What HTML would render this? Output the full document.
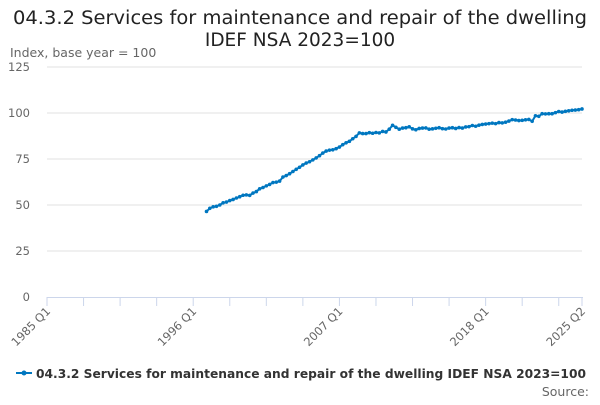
<!DOCTYPE html>
<html><head><meta charset="utf-8"><style>
body{margin:0;background:#fff;font-family:"Liberation Sans","DejaVu Sans",sans-serif}
svg text{font-family:"DejaVu Sans","Liberation Sans",sans-serif}
</style></head><body>
<svg id="c" width="600" height="400" viewBox="0 0 600 400">
<text x="300" y="24" text-anchor="middle" font-size="18.5" fill="#222" textLength="574" lengthAdjust="spacingAndGlyphs">04.3.2 Services for maintenance and repair of the dwelling</text>
<text x="300" y="46" text-anchor="middle" font-size="18.5" fill="#222">IDEF NSA 2023=100</text>
<text x="10" y="57" font-size="12.5" fill="#666">Index, base year = 100</text>
<g id="grid"></g><g id="xax"></g><g id="series"></g>
<g>
<line x1="16" y1="373" x2="32" y2="373" stroke="#0077c0" stroke-width="2"/>
<circle cx="24" cy="373" r="2.5" fill="#0077c0"/>
<text x="36" y="378" font-size="12.5" font-weight="bold" fill="#333" textLength="550" lengthAdjust="spacingAndGlyphs">04.3.2 Services for maintenance and repair of the dwelling IDEF NSA 2023=100</text>
</g>
<text x="589" y="396" text-anchor="end" font-size="12.5" fill="#666">Source:</text>
</svg>
<script>
const yTicks=[0,25,50,75,100,125];
const xLabels=["1985 Q1","1996 Q1","2007 Q1","2018 Q1","2025 Q2"];
const xLabelIdx=[0,44,88,132,161];
const startIdx=48;
const values=[46.5,48.2,49,49.3,50,51.2,51.6,52.4,53,53.8,54.5,55.3,55.5,55.2,56.5,57.3,58.8,59.5,60.4,61.2,62.2,62.4,63,65.2,66,67,68.2,69.4,70.5,71.8,72.8,73.5,74.5,75.6,76.8,78.2,79.3,79.8,80,80.6,81.5,82.8,83.8,84.6,86,87.3,89.2,88.8,88.8,89.3,89,89.4,89.2,90,89.7,91.2,93.3,92.2,91.2,91.8,92,92.5,91.4,90.9,91.6,91.8,91.9,91.2,91.4,91.7,92,91.5,91.3,91.8,92,91.6,92.1,91.8,92.4,92.6,93.2,92.8,93.4,93.8,94,94.2,94.5,94.2,94.8,94.6,95,95.6,96.4,96.2,95.9,96,96.3,96.5,95.5,98.5,98.2,99.6,99.5,99.6,99.6,100.2,100.8,100.5,100.9,101.2,101.5,101.6,101.8,102.2];
const NS="http://www.w3.org/2000/svg";
const X0=47,X1=582,NQ=161,Y0=297,Y1=67;
const xs=i=>X0+(X1-X0)*i/NQ;
const ys=v=>Y0-(Y0-Y1)*v/125;
function mk(t,a,p){const e=document.createElementNS(NS,t);for(const k in a)e.setAttribute(k,a[k]);p.appendChild(e);return e;}
const grid=document.getElementById('grid');
yTicks.forEach(v=>{
  if(v>0){const l=mk('line',{x1:X0,x2:X1,y1:ys(v),y2:ys(v),stroke:'#e0e0e0'},grid);
  
  }
  const t=mk('text',{x:30,y:ys(v)+4,'text-anchor':'end','font-size':11.5,fill:'#666'},grid);t.textContent=v;
  
  
});
const xax=document.getElementById('xax');
const ax=mk('line',{x1:X0,x2:X1+1,y1:Y0+0.5,y2:Y0+0.5,stroke:'#ccd6eb'},xax);


for(let i=0;i<=NQ;i+=11){mk('line',{x1:xs(i),x2:xs(i),y1:Y0,y2:Y0+9,stroke:'#ccd6eb'},xax);}
mk('line',{x1:xs(NQ),x2:xs(NQ),y1:Y0,y2:Y0+9,stroke:'#ccd6eb'},xax);
xLabels.forEach((s,k)=>{const x=xs(xLabelIdx[k])+4,y=Y0+15;
  const t=mk('text',{x:x,y:y,'text-anchor':'end','font-size':11.5,fill:'#666',transform:`rotate(-45 ${x} ${y})`},xax);t.textContent=s;
  
  
});
const g=document.getElementById('series');
const pts=values.map((v,i)=>[xs(startIdx+i),ys(v)]);
const pl=mk('polyline',{points:pts.map(p=>p.join(',')).join(' '),fill:'none',stroke:'#0077c0','stroke-width':2},g);


pts.forEach(p=>{const c=mk('circle',{cx:p[0],cy:p[1],r:1.8,fill:'#0077c0'},g);
  
  });
</script>
</body></html>
